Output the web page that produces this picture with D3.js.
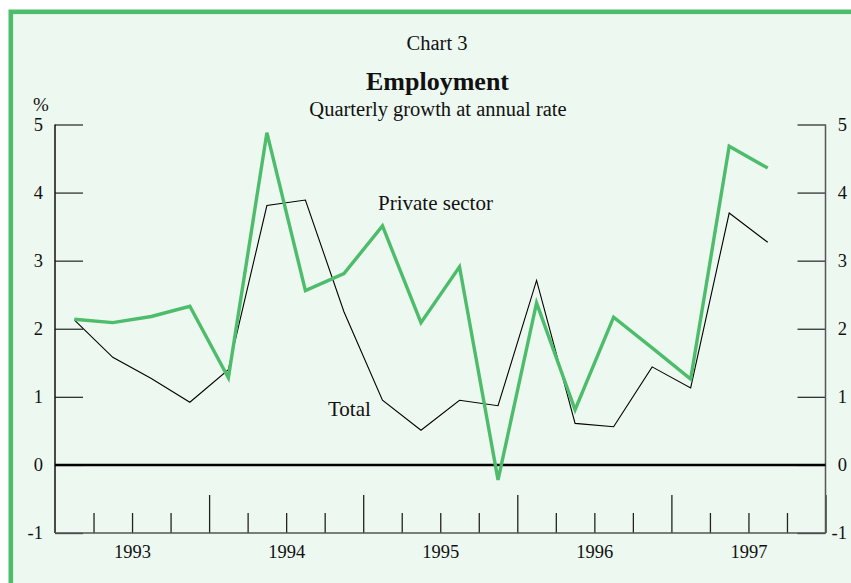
<!DOCTYPE html>
<html>
<head>
<meta charset="utf-8">
<script src="https://cdn.jsdelivr.net/npm/d3@7"></script>
<style>
  body { margin: 0; background: #fff; }
  svg text { font-family: "Liberation Serif", "DejaVu Serif", serif; fill: #111; }
</style>
</head>
<body>
<div id="chart"></div>
<script>
// Employment, quarterly growth at annual rate (%), 1993 Q1 .. 1997 Q3
var quarters = d3.range(19);          // quarter index from 1993 Q1
var privateSector = [2.14, 2.09, 2.18, 2.33, 1.28, 4.88, 2.56, 2.81, 3.51, 2.09,
                     2.91, -0.22, 2.38, 0.81, 2.17, 1.72, 1.26, 4.68, 4.36];
var total = [2.13, 1.58, 1.27, 0.92, 1.40, 3.81, 3.89, 2.25, 0.95, 0.51,
             0.95, 0.87, 2.71, 0.61, 0.56, 1.44, 1.13, 3.70, 3.27];
var years = [1993, 1994, 1995, 1996, 1997];
var yTicks = [-1, 0, 1, 2, 3, 4, 5];

var svgWidth = 851, svgHeight = 583;
var green = "#4dbd6c";

var svg = d3.select("#chart").append("svg")
  .attr("width", svgWidth)
  .attr("height", svgHeight);

// panel background and frame
svg.append("rect")
  .attr("x", 10.8).attr("y", 11.8)
  .attr("width", 900).attr("height", 700)
  .attr("fill", "#edf8f0")
  .attr("stroke", green)
  .attr("stroke-width", 4.6);

var x = d3.scaleLinear().domain([1993, 1998]).range([55, 825.5]);
var y = d3.scaleLinear().domain([-1, 5]).range([533, 124.5]);
var qx = function(i) { return x(1993 + (i + 0.5) / 4); };
var intFmt = function(d) { return String(d); };

// titles
svg.append("text").attr("x", 437).attr("y", 50)
  .attr("text-anchor", "middle").style("font-size", "20.5px").text("Chart 3");
svg.append("text").attr("x", 437.5).attr("y", 90)
  .attr("text-anchor", "middle").style("font-size", "26px").style("font-weight", "bold")
  .text("Employment");
svg.append("text").attr("x", 438).attr("y", 115.5)
  .attr("text-anchor", "middle").style("font-size", "20.5px")
  .text("Quarterly growth at annual rate");
svg.append("text").attr("x", 33).attr("y", 111)
  .style("font-size", "19px").text("%");

// left y axis
var leftAxis = d3.axisLeft(y).tickValues(yTicks).tickFormat(intFmt)
  .tickSizeInner(-28).tickSizeOuter(0).tickPadding(12);
var gl = svg.append("g").attr("transform", "translate(55,0)").call(leftAxis);
gl.select(".domain").remove();
gl.selectAll("line").attr("stroke", "#333").attr("stroke-width", 1.3);
gl.selectAll("text").style("font-size", "18.5px").attr("fill", "#111");

// right y axis (labels right-aligned like the original)
var rightAxis = d3.axisRight(y).tickValues(yTicks).tickFormat(intFmt)
  .tickSizeInner(-28).tickSizeOuter(0).tickPadding(12);
var gr = svg.append("g").attr("transform", "translate(825.5,0)").call(rightAxis);
gr.select(".domain").remove();
gr.selectAll("line").attr("stroke", "#333").attr("stroke-width", 1.3);
gr.selectAll("text").style("font-size", "18.5px").attr("fill", "#111")
  .attr("text-anchor", "end").attr("x", 21.5);

// bottom axis: quarter ticks and year ticks
var quarterTicks = d3.range(1993.25, 1998, 0.25).filter(function(v) { return v % 1 !== 0; });
var gq = svg.append("g").attr("transform", "translate(0,533)")
  .call(d3.axisBottom(x).tickValues(quarterTicks).tickSizeInner(-20).tickSizeOuter(0).tickFormat(""));
gq.select(".domain").remove();
gq.selectAll("line").attr("stroke", "#222").attr("stroke-width", 1.3);

var gy = svg.append("g").attr("transform", "translate(0,533)")
  .call(d3.axisBottom(x).tickValues([1994, 1995, 1996, 1997, 1998]).tickSizeInner(-38).tickSizeOuter(0).tickFormat(""));
gy.select(".domain").remove();
gy.selectAll("line").attr("stroke", "#222").attr("stroke-width", 1.3);

var gLab = svg.append("g").attr("transform", "translate(0,533)")
  .call(d3.axisBottom(x).tickValues(years.map(function(v) { return v + 0.5; }))
    .tickSize(0).tickPadding(12).tickFormat(function(d) { return Math.floor(d); }));
gLab.select(".domain").remove();
gLab.selectAll("text").style("font-size", "18.5px").attr("fill", "#111");

// axis frame lines
svg.append("line").attr("x1", x(1993)).attr("x2", x(1993)).attr("y1", y(5)).attr("y2", y(-1))
  .attr("stroke", "#111").attr("stroke-width", 1.5);
svg.append("line").attr("x1", x(1998)).attr("x2", x(1998)).attr("y1", y(5)).attr("y2", y(-1))
  .attr("stroke", "#555").attr("stroke-width", 1.5);
svg.append("line").attr("x1", x(1993)).attr("x2", x(1998)).attr("y1", y(-1)).attr("y2", y(-1))
  .attr("stroke", "#555").attr("stroke-width", 1.5);

// zero line
svg.append("line").attr("x1", x(1993)).attr("x2", x(1998)).attr("y1", y(0)).attr("y2", y(0))
  .attr("stroke", "#000").attr("stroke-width", 2.5);

// series
var line = function(vals) {
  return d3.line().x(function(i) { return qx(i); }).y(function(i) { return y(vals[i]); })(quarters);
};
svg.append("path").attr("d", line(total))
  .attr("fill", "none").attr("stroke", "#000").attr("stroke-width", 1.1);
svg.append("path").attr("d", line(privateSector))
  .attr("fill", "none").attr("stroke", green).attr("stroke-width", 3.4);

// series labels
svg.append("text").attr("x", 378).attr("y", 210)
  .style("font-size", "21px").text("Private sector");
svg.append("text").attr("x", 328).attr("y", 416)
  .style("font-size", "21px").text("Total");
</script>
</body>
</html>
